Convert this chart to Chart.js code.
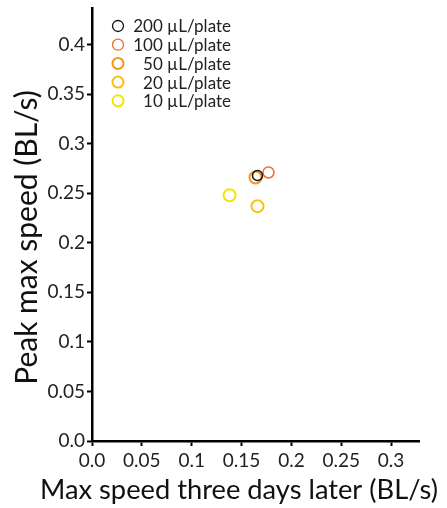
<!DOCTYPE html>
<html>
<head>
<meta charset="utf-8">
<script src="https://cdn.jsdelivr.net/npm/chart.js@4/dist/chart.umd.min.js"></script>
<style>
  html, body { margin: 0; padding: 0; background: #fff; }
  #wrap { width: 447px; height: 508px; }
</style>
</head>
<body>
<div id="wrap"><canvas id="chart" width="447" height="508"></canvas></div>
<script>
// doses and the colours used for them
var doses = ['200 \u00b5L/plate', '100 \u00b5L/plate', '50 \u00b5L/plate', '20 \u00b5L/plate', '10 \u00b5L/plate'];
var colours = ['#111111', '#f26a2e', '#f7941d', '#f9c013', '#f2e600'];
// max speed three days later (x) and peak max speed (y), one point per dose
var laterSpeed = [0.166, 0.177, 0.164, 0.166, 0.138];
var peakSpeed = [0.268, 0.271, 0.266, 0.237, 0.248];
var pointSize = [5, 5.5, 6, 6, 6];
var xTicks = [0, 0.05, 0.1, 0.15, 0.2, 0.25, 0.3];
var yTicks = [0, 0.05, 0.1, 0.15, 0.2, 0.25, 0.3, 0.35, 0.4];
var xTitle = 'Max speed three days later (BL/s)';
var yTitle = 'Peak max speed (BL/s)';

var font = 'Lato, "DejaVu Sans", sans-serif';

var datasets = doses.map(function (d, i) {
  return {
    label: d,
    data: [{ x: laterSpeed[i], y: peakSpeed[i] }],
    borderColor: colours[i],
    backgroundColor: 'rgba(0,0,0,0)',
    pointRadius: pointSize[i],
    pointBorderWidth: i > 1 ? 2 : 1.5
  };
});

function fmt(v) {
  return v === 0 ? '0.0' : String(Math.round(v * 100) / 100);
}

// legend inside the plot (numbers right aligned) and the two axis titles,
// which in the original are wider than the axes themselves
var extras = {
  id: 'extras',
  afterDraw: function (chart) {
    var ctx = chart.ctx;
    var left = chart.chartArea.left + 26;
    var top = chart.chartArea.top + 18;
    ctx.save();
    ctx.font = '17px ' + font;
    ctx.textBaseline = 'middle';
    ctx.textAlign = 'right';
    doses.forEach(function (d, i) {
      var y = top + i * 18.7;
      ctx.beginPath();
      ctx.arc(left, y, 5.5, 0, Math.PI * 2);
      ctx.lineWidth = i > 1 ? 2 : 1.3;
      ctx.strokeStyle = colours[i];
      ctx.stroke();
      ctx.fillStyle = '#222';
      ctx.fillText(d, left + 113, y + 1);
    });

    ctx.fillStyle = '#111';
    ctx.textBaseline = 'alphabetic';
    ctx.textAlign = 'center';

    // x title
    ctx.font = '26px ' + font;
    var w = ctx.measureText(xTitle).width;
    var sx = Math.min(1.1, Math.max(0.9, 398 / w));
    ctx.save();
    ctx.translate(239, 499);
    ctx.scale(sx, 1);
    ctx.fillText(xTitle, 0, 0);
    ctx.restore();

    // y title
    ctx.font = '30px ' + font;
    ctx.save();
    ctx.translate(36.5, 237.5);
    ctx.rotate(-Math.PI / 2);
    ctx.fillText(yTitle, 0, 0);
    ctx.restore();
    ctx.restore();
  }
};

new Chart(document.getElementById('chart'), {
  type: 'scatter',
  data: { datasets: datasets },
  options: {
    responsive: false,
    animation: false,
    layout: { padding: { top: 8, right: 28, left: 0, bottom: 0 } },
    plugins: {
      legend: { display: false },
      tooltip: { enabled: false }
    },
    scales: {
      x: {
        type: 'linear',
        min: 0,
        max: 0.328,
        afterBuildTicks: function (s) { s.ticks = xTicks.map(function (v) { return { value: v }; }); },
        afterFit: function (s) { s.height = 67; s.paddingLeft = 0; s.paddingRight = 0; },
        grid: { drawOnChartArea: false, drawTicks: true, tickLength: 5, tickWidth: 2, tickColor: '#000' },
        border: { color: '#000', width: 2.5 },
        ticks: { color: '#222', font: { family: font, size: 19 }, padding: 3, maxRotation: 0, callback: fmt },
        title: { display: false, text: xTitle }
      },
      y: {
        type: 'linear',
        min: 0,
        max: 0.437,
        afterBuildTicks: function (s) { s.ticks = yTicks.map(function (v) { return { value: v }; }); },
        afterFit: function (s) { s.width = 92; s.paddingTop = 0; s.paddingBottom = 0; },
        grid: { drawOnChartArea: false, drawTicks: true, tickLength: 5, tickWidth: 2, tickColor: '#000' },
        border: { color: '#000', width: 2.5 },
        ticks: { color: '#222', font: { family: font, size: 19 }, padding: 2, callback: fmt },
        title: { display: false, text: yTitle }
      }
    }
  },
  plugins: [extras]
});
</script>
</body>
</html>
